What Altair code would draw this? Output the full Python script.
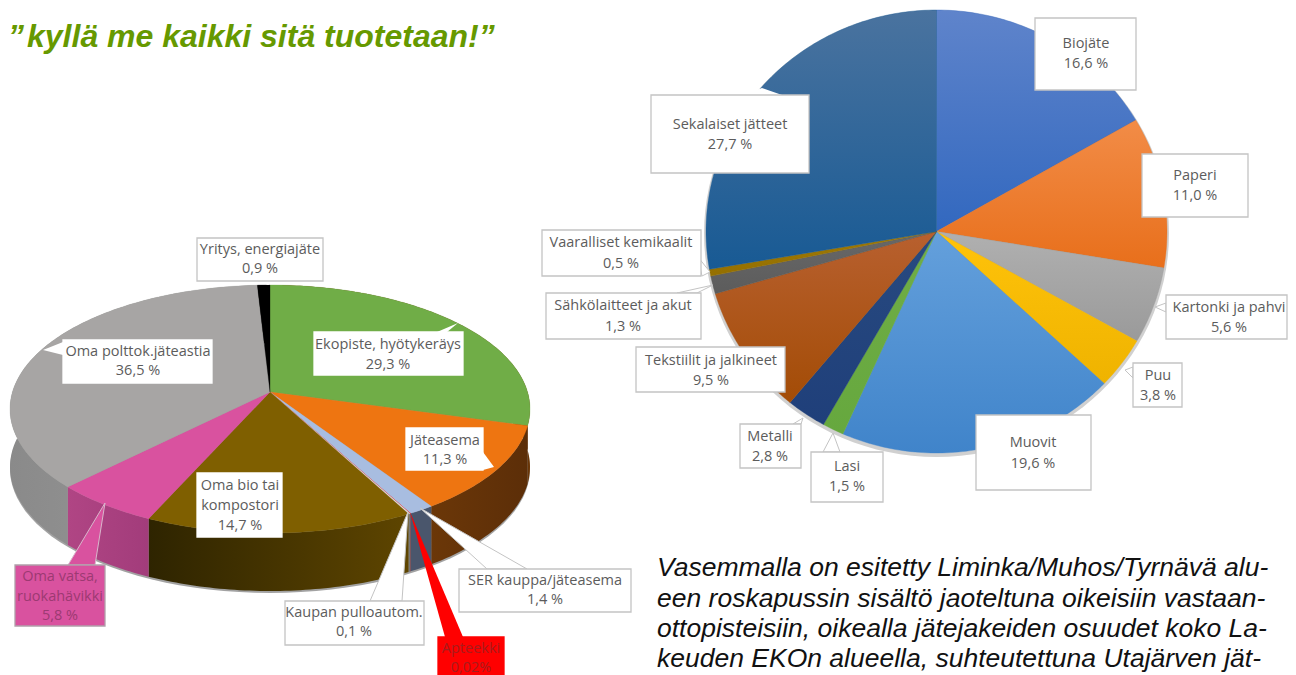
import numpy as np
import pandas as pd
import altair as alt

# ---------- data ----------
right_names = ["Biojäte", "Paperi", "Kartonki ja pahvi", "Puu", "Muovit", "Lasi", "Metalli",
               "Tekstiilit ja jalkineet", "Sähkölaitteet ja akut", "Vaaralliset kemikaalit", "Sekalaiset jätteet"]
right_values = [16.6, 11.0, 5.6, 3.8, 19.6, 1.5, 2.8, 9.5, 1.3, 0.5, 27.7]
right_colors = [("#5f84cb", "#3268bf"), ("#f28c47", "#e86f1b"), ("#b0b0b0", "#9a9a9a"), ("#ffc30a", "#efb300"),
                ("#64a0dc", "#4084ca"), ("#70ad47", "#66a83e"), ("#284a80", "#1f3f7a"), ("#b8602f", "#a34c06"),
                ("#686868", "#5c5c5c"), ("#a17a05", "#946f00"), ("#4a739f", "#185a94")]

left_names = ["Ekopiste, hyötykeräys", "Jäteasema", "SER kauppa/jäteasema", "Apteekki", "Kaupan pulloautom.",
              "Oma bio tai kompostori", "Oma vatsa, ruokahävikki", "Oma polttok.jäteastia", "Yritys, energiajäte"]
left_values = [29.3, 11.3, 1.4, 0.02, 0.1, 14.7, 5.8, 36.5, 0.9]
left_top = ["#70ad47", "#ee7511", "#a8bde0", "#ff0000", "#dddddd", "#7f5f00", "#d9529f", "#a7a5a4", "#000000"]
left_wall = [("#6b3708", "#6b3708"), ("#6b3708", "#5c2e08"), ("#4a566c", "#4a566c"), ("#990000", "#990000"),
             ("#777777", "#777777"), ("#2e2400", "#5e4500"), ("#b04584", "#a23c7b"), ("#8a8a8a", "#9c9c9c"),
             ("#000000", "#000000")]

# label: lines, text-centre x, first-line y, line gap, box x0,y0,x1,y1, fill, text colour, border
G = "#c4c4c4"
T = "#5c5c5c"
labels = [
    (["Biojäte", "16,6 %"], 1086, 44, 20, 1035, 18, 1136, 90, "white", T, G),
    (["Paperi", "11,0 %"], 1195, 176, 20, 1142, 154, 1248, 217, "white", T, G),
    (["Kartonki ja pahvi", "5,6 %"], 1229, 308, 20, 1166, 295, 1287, 339, "white", T, G),
    (["Puu", "3,8 %"], 1158, 376, 20, 1133, 363, 1182, 407, "white", T, G),
    (["Muovit", "19,6 %"], 1033, 443, 21, 976, 415, 1091, 490, "white", T, G),
    (["Lasi", "1,5 %"], 847, 467, 20, 811, 452, 883, 502, "white", T, G),
    (["Metalli", "2,8 %"], 770, 437, 20, 740, 424, 801, 468, "white", T, G),
    (["Tekstiilit ja jalkineet", "9,5 %"], 711, 361, 20, 636, 347, 785, 392, "white", T, G),
    (["Sähkölaitteet ja akut", "1,3 %"], 623, 306, 21, 546, 293, 701, 339, "white", T, G),
    (["Vaaralliset kemikaalit", "0,5 %"], 621, 243, 21, 542, 230, 701, 276, "white", T, G),
    (["Sekalaiset jätteet", "27,7 %"], 730, 125, 20, 651, 95, 809, 173, "white", T, G),
    (["Yritys, energiajäte", "0,9 %"], 260, 250, 19, 197, 238, 323, 281, "white", T, G),
    (["Oma polttok.jäteastia", "36,5 %"], 138, 352, 19, 63, 340, 212, 383, "white", T, "white"),
    (["Ekopiste, hyötykeräys", "29,3 %"], 388, 345, 20, 314, 332, 463, 375, "white", T, "white"),
    (["Jäteasema", "11,3 %"], 445, 441, 19, 406, 428, 483, 470, "white", T, "white"),
    (["Oma bio tai", "kompostori", "14,7 %"], 240, 486, 20, 197, 473, 282, 537, "white", T, "white"),
    (["Oma vatsa,", "ruokahävikki", "5,8 %"], 60, 577, 19.5, 15, 565, 105, 626, "#d9529f", "#9c3a72", "#b0a0aa"),
    (["Kaupan pulloautom.", "0,1 %"], 354, 613, 19, 285, 601, 424, 645, "white", T, G),
    (["SER kauppa/jäteasema", "1,4 %"], 545, 581, 19, 459, 569, 631, 612, "white", T, G),
    (["Apteekki", "0,02%"], 471, 649, 19, 438, 637, 504, 690, "#ff0000", "#a81c1c", "#ff0000"),
]

# callout tails: polygon points, fill, edge
tails = [
    ([(743, 95), (762, 88), (782, 95)], "white", None),
    ([(698, 257), (710, 272), (702, 276)], "white", G),
    ([(677, 293), (713, 285), (697, 293)], "white", G),
    ([(793, 424), (803, 418), (801, 424)], "white", G),
    ([(823, 452), (833, 433), (840, 452)], "white", G),
    ([(1166, 303), (1155, 307), (1166, 312)], "white", G),
    ([(1133, 367), (1125, 370), (1133, 378)], "white", G),
    ([(63, 342), (43, 350), (63, 355)], "white", None),
    ([(437, 332), (458, 323), (447, 332)], "white", None),
    ([(483, 452), (494, 467), (483, 470)], "white", None),
    ([(68, 565), (105, 503), (95, 565)], "#d9529f", "#d8b8cc"),
    ([(370, 601), (408, 512), (402, 601)], "white", G),
    ([(487, 569), (420, 508), (527, 569)], "white", G),
    ([(445, 637), (410, 512), (463, 637)], "#ff0000", None),
    ([(259, 281), (268, 285), (275, 281)], "white", None),
]

title_text = "kyllä me kaikki sitä tuotetaan!”"
para = ["Vasemmalla on esitetty Liminka/Muhos/Tyrnävä alu-",
        "een roskapussin sisältö jaoteltuna oikeisiin vastaan-",
        "ottopisteisiin, oikealla jätejakeiden osuudet koko La-",
        "keuden EKOn alueella, suhteutettuna Utajärven jät-"]

# ---------- geometry from the values ----------
X = alt.X("x:Q", scale=alt.Scale(domain=[8, 1288], nice=False, zero=False), axis=None)
Y = alt.Y("y:Q", scale=alt.Scale(domain=[675, 8], nice=False, zero=False), axis=None)
X2 = alt.X2("x2:Q")
Y2 = alt.Y2("y2:Q")


def poly(points, fill, stroke=None, sw=0, opacity=None):
    df = pd.DataFrame(points, columns=["x", "y"])
    df["i"] = range(len(df))
    kw = dict(interpolate="linear-closed", fill=fill, strokeWidth=sw, clip=False)
    kw["stroke"] = stroke if stroke else "transparent"
    if opacity is not None:
        kw["opacity"] = opacity
    return alt.Chart(df).mark_line(**kw).encode(x=X, y=Y, order=alt.Order("i:Q"))


def grad(c1, c2, horizontal=False):
    return alt.LinearGradient(
        gradient="linear",
        stops=[alt.GradientStop(color=c1, offset=0), alt.GradientStop(color=c2, offset=1)],
        x1=0, y1=0, x2=1 if horizontal else 0, y2=0 if horizontal else 1,
    )


layers = []

# right pie
RC = (936.5, 231.5)
RR = (230.5, 221.5)


def right_rim(a):
    return np.column_stack([RC[0] + RR[0] * np.sin(a), RC[1] - RR[1] * np.cos(a)])


layers.append(poly(
    [tuple(p) for p in np.column_stack([RC[0] + (RR[0] + 2) * np.sin(np.radians(np.arange(0, 360, 3))),
                                        RC[1] + 2 + (RR[1] + 2) * np.cos(np.radians(np.arange(0, 360, 3)))])],
    "#d0d0d0"))
cum = np.concatenate([[0], np.cumsum(right_values)]) / sum(right_values) * 2 * np.pi
for k in range(len(right_values)):
    a = np.linspace(cum[k], cum[k + 1], max(3, int((cum[k + 1] - cum[k]) * 60)))
    pts = [RC] + [tuple(p) for p in right_rim(a)]
    layers.append(poly(pts, grad(*right_colors[k]), stroke=right_colors[k][1], sw=0.4))

# left pie (tilted, slight perspective)
LA = (270, 392)
LC = (270, 409)
LR = (260, 124)
DEPTH = 58


def left_rim(a):
    t = a - np.radians(8) * np.sin(a)
    return np.column_stack([LC[0] + LR[0] * np.sin(t), LC[1] - LR[1] * np.cos(t)])


# soft shadow under the body
whole = left_rim(np.radians(np.arange(0, 360, 3)))
layers.append(poly([tuple(p) for p in whole + np.array([0, DEPTH + 2])], "#555555", opacity=0.55))

lcum = np.concatenate([[0], np.cumsum(left_values)]) / sum(left_values) * 2 * np.pi
rims = []
for k in range(len(left_values)):
    a = np.linspace(lcum[k], lcum[k + 1], max(3, int((lcum[k + 1] - lcum[k]) * 60)))
    rims.append(left_rim(a))
for k in range(len(left_values)):
    r = rims[k]
    low = r[::-1] + np.array([0, DEPTH])
    pts = [tuple(p) for p in r] + [tuple(p) for p in low]
    layers.append(poly(pts, grad(left_wall[k][0], left_wall[k][1], True)))
for k in range(len(left_values)):
    pts = [LA] + [tuple(p) for p in rims[k]]
    layers.append(poly(pts, left_top[k], stroke=left_top[k], sw=0.3))

# callout tails
for pts, fill, edge in tails:
    layers.append(poly(pts, fill, stroke=edge, sw=1 if edge else 0))

# boxes
box_df = pd.DataFrame([dict(x=l[4], y=l[5], x2=l[6], y2=l[7], f=l[8], s=l[10]) for l in labels])
layers.append(alt.Chart(box_df).mark_rect(strokeWidth=1.3).encode(
    x=X, y=Y, x2=X2, y2=Y2, fill=alt.Fill("f:N", scale=None), stroke=alt.Stroke("s:N", scale=None)))

# label text
rows = []
for l in labels:
    for n, line in enumerate(l[0]):
        rows.append(dict(x=l[1], y=l[2] + n * l[3], t=line, c=l[9]))
layers.append(alt.Chart(pd.DataFrame(rows)).mark_text(
    font="Open Sans", fontSize=14.5, align="center", baseline="middle").encode(
    x=X, y=Y, text="t:N", color=alt.Color("c:N", scale=None)))

# heading
layers.append(alt.Chart(pd.DataFrame([dict(x=8, y=47, t="”"), dict(x=27, y=47, t=title_text)])).mark_text(
    font="Liberation Sans", fontSize=32, fontWeight="bold", fontStyle="italic",
    align="left", baseline="alphabetic", color="#669900").encode(x=X, y=Y, text="t:N"))

# paragraph
para_y = [576, 607, 637, 667]
para_df = pd.DataFrame([dict(x=657, y=py, t=s) for py, s in zip(para_y, para)])
layers.append(alt.Chart(para_df).mark_text(
    font="Liberation Sans", fontSize=26.5, fontStyle="italic", align="left", baseline="alphabetic",
    color="#111111").encode(x=X, y=Y, text="t:N"))

chart = alt.layer(*layers).properties(
    width=1280, height=667, padding=0,
    autosize=alt.AutoSizeParams(type="none"),
).configure_view(stroke=None)

chart.save("out.html", embed_options={"renderer": "svg", "actions": False})
